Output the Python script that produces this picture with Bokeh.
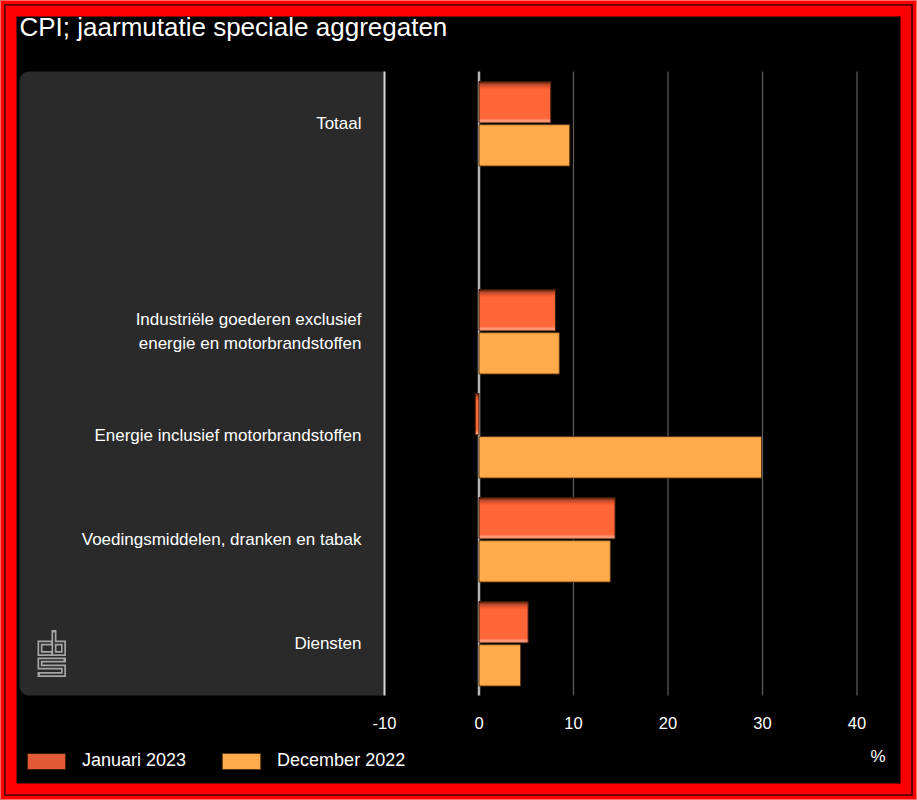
from bokeh.plotting import figure
from bokeh.models import (Range1d, ColumnDataSource, BoxAnnotation, Legend, LegendItem,
                          GlobalInlineStyleSheet)
from bokeh.transform import dodge
from bokeh.core.properties import value
from bokeh.embed import file_html
from bokeh.resources import INLINE

# ---------------- data ----------------
title_text = "CPI; jaarmutatie speciale aggregaten"
categories = [
    "Totaal",
    " ",
    "Industriële goederen exclusief\nenergie en motorbrandstoffen",
    "Energie inclusief motorbrandstoffen",
    "Voedingsmiddelen, dranken en tabak",
    "Diensten",
]
series_names = ["Januari 2023", "December 2022"]
jan_2023 = [7.6, None, 8.1, -0.4, 14.4, 5.2]
dec_2022 = [9.6, None, 8.5, 29.9, 13.9, 4.4]
x_ticks = [-10, 0, 10, 20, 30, 40]
unit_label = "%"

# ---------------- style ----------------
FONT = value("Liberation Sans")
WHITE = "#ffffff"
RED = "#ff0000"
BG = "#000000"
PANEL = "#2a2a2a"
JAN = "#ff6536"
DEC = "#ffab4c"
W, H = 901, 784                 # figure, placed at page (8, 8)
PXX = 1 / 9.45                  # x data units per pixel
PXY = 1 / 104.0                 # row units per pixel
N = len(categories)
dx = lambda px: (px - 478.5) * PXX      # page pixel -> data (layout helpers)
dy = lambda py: (695 - py) * PXY

rows = [N - 0.5 - i for i in range(N)]
present = [i for i, v in enumerate(jan_2023) if v is not None]
src = ColumnDataSource(dict(
    y=[rows[i] for i in present],
    jan=[jan_2023[i] for i in present],
    dec=[dec_2022[i] for i in present],
))
lab_src = ColumnDataSource(dict(y=rows, txt=categories))

p = figure(width=W, height=H, output_backend="svg", toolbar_location=None,
           x_range=Range1d(dx(8), dx(8 + W)), y_range=Range1d(dy(8 + H), dy(8)),
           min_border=0, x_axis_type=None, y_axis_type=None)
p.background_fill_color = RED
p.border_fill_color = RED
p.outline_line_color = None
p.grid.visible = False
p.stylesheets = [GlobalInlineStyleSheet(
    css="html{height:100%;background:#ff0000;"
        "box-shadow:inset 0 0 0 1px #ff6a6a, inset 0 0 0 4px #ff0000, "
        "inset 0 0 0 6px #6a0000;} "
        "body{margin:8px;background:transparent;}")]

# black chart area inside the red frame
p.add_layout(BoxAnnotation(left=dx(16), right=dx(900), top=dy(16), bottom=dy(783),
                           fill_color=BG, fill_alpha=1, line_color=None,
                           level="underlay"))
# left label panel
p.add_layout(BoxAnnotation(left=dx(19), right=x_ticks[0], bottom=0, top=N,
                           fill_color=PANEL, fill_alpha=1, line_color=None,
                           border_radius=(9, 0, 0, 9), level="underlay"))

# title
p.text(x=[dx(19)], y=[dy(26)], text=[title_text],
       text_align="left", text_baseline="alphabetic", text_color=WHITE,
       text_font=FONT, text_font_size="26px")

# vertical grid lines at the ticks
grid_colors = ["#d8d8d8" if t == x_ticks[0] else "#b4b4b4" if t == 0 else "#5e5e5e"
               for t in x_ticks]
grid_widths = [2 if t == x_ticks[0] else 2.5 if t == 0 else 1.2 for t in x_ticks]
p.segment(x0=x_ticks, y0=[0] * len(x_ticks), x1=x_ticks, y1=[N] * len(x_ticks),
          line_color=grid_colors, line_width=grid_widths)

# tick labels
p.text(x=x_ticks, y=[dy(722)] * len(x_ticks), text=[str(t) for t in x_ticks],
       text_align="center", text_baseline="middle", text_color=WHITE,
       text_font=FONT, text_font_size="16.5px")
# unit label
p.text(x=[dx(885)], y=[dy(755.5)], text=[unit_label], text_align="right",
       text_baseline="middle", text_color=WHITE, text_font=FONT,
       text_font_size="17px")

# bars
OFF_J, OFF_D, BH = 0.205, -0.21, 0.398
jan_main = p.hbar(y=dodge("y", OFF_J), left=0, right="jan", height=BH, source=src,
                  fill_color=JAN, line_color=None)
top_shades = ["#6e2c16", "#93391c", "#b94624", "#dc522b", "#f25b31"]
for k, c in enumerate(top_shades):
    off = OFF_J + BH / 2 - (k + 0.5) * 1.4 * PXY
    p.hbar(y=dodge("y", off), left=0, right="jan", height=1.4 * PXY, source=src,
           fill_color=c, line_color=None)
bot_shades = ["#ffb29a", "#ff9878", "#ff7f5a"]
for k, c in enumerate(bot_shades):
    off = OFF_J - BH / 2 + (k + 0.5) * 1.4 * PXY
    p.hbar(y=dodge("y", off), left=0, right="jan", height=1.4 * PXY, source=src,
           fill_color=c, line_color=None)
p.hbar(y=dodge("y", OFF_J), left=0, right="jan", height=BH, source=src,
       fill_color=None, line_color="#3a1a0a", line_width=1)
dec_main = p.hbar(y=dodge("y", OFF_D), left=0, right="dec", height=BH, source=src,
                  fill_color=DEC, line_color="#5a3814", line_width=1)

# legend swatch stand-in for the shaded January bars (kept off the visible area)
jan_swatch = p.hbar(y=[dy(8 + H) - 1], left=[0], right=[1], height=0.1,
                    fill_color="#e25a36", line_color="#3a1a0a", line_width=1)

# category labels
p.text(x=dx(361), y="y", text="txt", source=lab_src, text_align="right",
       text_baseline="middle", text_color=WHITE, text_font=FONT,
       text_font_size="17px", text_line_height=1.24)

# cbs logo (decorative)
logo_paths = [
    [(50.5, 642.5), (39.5, 642.5), (39.5, 653), (50.5, 653)],
    [(53.5, 632), (53.5, 653), (63, 653), (63, 642.5), (53.5, 642.5)],
    [(63, 659.5), (39.5, 659.5), (39.5, 666.5), (63, 666.5), (63, 674), (39.5, 674)],
]
xs = [[dx(a) for a, b in path] for path in logo_paths]
ys = [[dy(b) for a, b in path] for path in logo_paths]
p.multi_line(xs, ys, line_color="#a5a5a5", line_width=5, line_join="miter",
             line_cap="square")
p.multi_line(xs, ys, line_color=PANEL, line_width=1.6, line_join="miter",
             line_cap="butt")

# legend (bar swatches are drawn with a 10% inset, hence 48x20 boxes)
legend = Legend(items=[LegendItem(label=series_names[0], renderers=[jan_swatch]),
                       LegendItem(label=series_names[1], renderers=[dec_main])],
                orientation="horizontal", location=(14, 21),
                glyph_width=48, glyph_height=20, label_standoff=12, spacing=31,
                padding=0, margin=0, background_fill_alpha=0,
                border_line_color=None, label_text_color=WHITE,
                label_text_font="Liberation Sans", label_text_font_size="18px",
                label_height=20)
p.add_layout(legend)

open("out.html", "w").write(file_html(p, INLINE))
